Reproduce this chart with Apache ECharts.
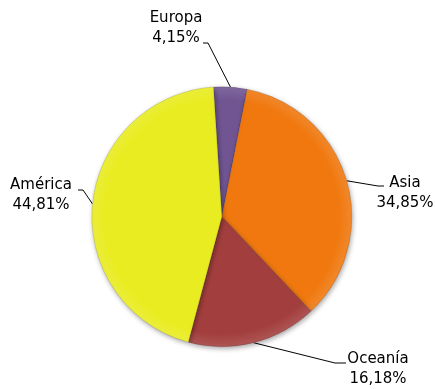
<!DOCTYPE html>
<html>
<head>
<meta charset="utf-8">
<script src="https://cdn.jsdelivr.net/npm/echarts@6/dist/echarts.min.js"></script>
<style>
html,body{margin:0;padding:0;background:#fff}
#chart{width:435px;height:389px}
</style>
</head>
<body>
<div id="chart"></div>
<script>
let regions = ["Europa","Asia","Oceanía","América"]
let shares = [4.15,34.85,16.18,44.81]
let colors = ["#705592","#f0780f","#a23e3d","#e9ec20"]
// centro del bloque de texto de cada etiqueta
let labelPos = [[176,28],[405,193],[378,369],[41,195]]
// donde termina la linea guia junto a la etiqueta
let lineEnd = [[203,43],[384,186],[346,363],[78,190]]

let chart = echarts.init(document.getElementById("chart"))
let cx = 435*0.51, cy = 389*0.557, R = 130

let data = regions.map((name,i)=>({
    name:name,
    value:shares[i],
    itemStyle:{
        color:{
            type:"radial",x:cx,y:cy,r:R,global:true,
            colorStops:[
                {offset:0,color:colors[i]},
                {offset:0.9,color:colors[i]},
                {offset:1,color:echarts.color.lift(colors[i],0.12)}
            ]
        }
    }
}))

chart.setOption({
    animation:false,
    series:[{
        type:"pie",
        center:[cx,cy],
        radius:R,
        startAngle:93.7,
        clockwise:true,
        data:data,
        itemStyle:{
            borderColor:"rgba(0,0,0,0.12)",
            borderWidth:1,
            shadowBlur:5,
            shadowColor:"rgba(0,0,0,0.35)",
            shadowOffsetX:1,
            shadowOffsetY:2
        },
        label:{
            show:true,
            formatter:p=>p.name+"\n"+p.value.toFixed(2).replace(".",",")+"%",
            fontFamily:"DejaVu Sans",
            fontSize:15,
            lineHeight:20,
            color:"#000",
            align:"center",
            overflow:"none",
            bleedMargin:0
        },
        labelLine:{
            show:true,
            length:12,
            length2:6,
            lineStyle:{color:"#000",width:1}
        },
        labelLayout:p=>{
            let i = p.dataIndex
            let start = p.labelLinePoints ? p.labelLinePoints[0] : lineEnd[i]
            let end = lineEnd[i]
            let dir = end[0] < start[0] ? -1 : 1
            let mid = [end[0]-dir*(i===1?6:i===2?11:5), end[1]]
            return {
                x:labelPos[i][0],
                y:labelPos[i][1],
                align:"center",
                verticalAlign:"middle",
                labelLinePoints:[start,mid,end]
            }
        },
        emphasis:{disabled:true}
    }]
})
</script>
</body>
</html>
